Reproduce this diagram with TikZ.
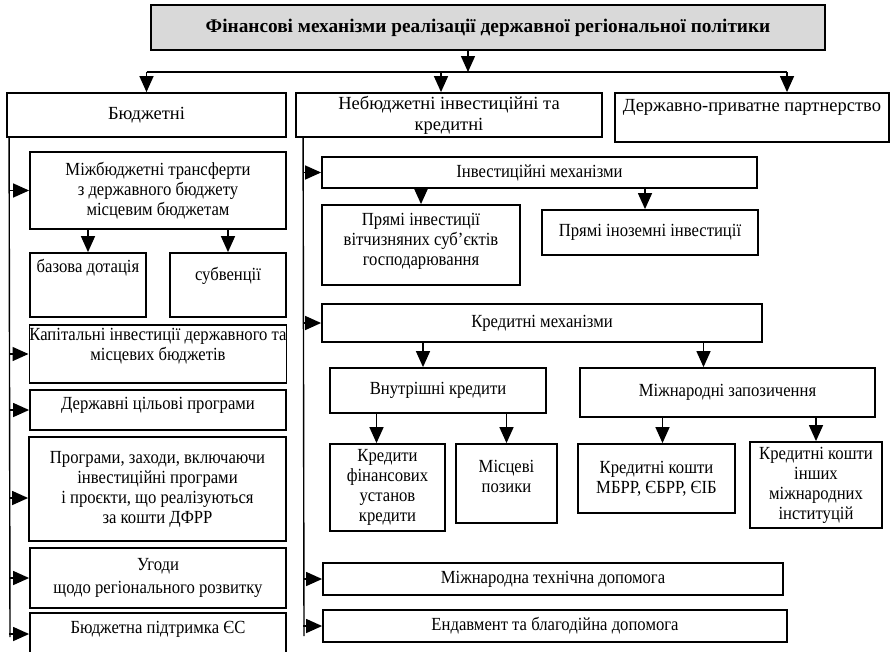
\documentclass[tikz,border=0pt]{standalone}
\usepackage{fontspec}
\setmainfont{Liberation Serif}
\newfontfamily\narrowserif[FakeStretch=0.9]{Liberation Serif}
\usetikzlibrary{arrows.meta}

\begin{document}
\begin{tikzpicture}[x=1pt, y=-1pt,
	box/.style={draw, line width=1.8pt, align=center, inner sep=0pt, font=\narrowserif\fontsize{18.5}{20}\selectfont},
	headbox/.style={box, font=\fontsize{18.5}{21}\selectfont},
	con/.style={line width=1.4pt},
	arr/.style={line width=1.4pt, -{Triangle[length=16pt, width=14pt]}}]
			\useasboundingbox (0,0) rectangle (896,651);
			
			\node[box, fill=gray!30, minimum width=674pt, minimum height=45pt, font=\bfseries\fontsize{19.3}{21}\selectfont] (title) at (488,27.5) {Фінансові механізми реалізації державної регіональної політики};
			
			\node[headbox, minimum width=279pt, minimum height=44pt] (bud) at (146.5,115) {Бюджетні};
			\node[headbox, minimum width=306pt, minimum height=44pt] (nebud) at (449,115) {Небюджетні інвестиційні та\\кредитні};
			\node[headbox, minimum width=274pt, text height=18pt, text depth=31pt] (ppp) at (752,117.5) {Державно-приватне партнерство};
			
			\node[box, minimum width=256pt, minimum height=77pt] (mbt) at (158,190.5) {Міжбюджетні трансферти\\з державного бюджету\\місцевим бюджетам};
			\node[box, minimum width=116pt, text height=19pt, text depth=45pt] (bdot) at (88,285) {базова дотація};
			\node[box, minimum width=116pt, text height=27pt, text depth=37pt] (subv) at (228,285) {субвенції};
			\node[box, minimum width=256pt, text height=35pt, text depth=23pt] (kap) at (158,354) {Капітальні інвестиції державного та\\місцевих бюджетів};
			\node[box, minimum width=256pt, text height=19pt, text depth=21pt] (dcp) at (158,410) {Державні цільові програми};
			\node[box, minimum width=257pt, minimum height=104pt] (prog) at (157.5,489) {Програми, заходи, включаючи\\інвестиційні програми\\і проєкти, що реалізуються\\за кошти ДФРР};
			\node[box, minimum width=256pt, minimum height=60pt] (ugod) at (158,578) {Угоди\\[3pt]щодо регіонального розвитку};
			\node[box, minimum width=256pt, text height=20pt, text depth=22pt] (bps) at (158,634) {Бюджетна підтримка ЄС};
			
			\node[box, minimum width=435pt, minimum height=31pt] (invm) at (539.5,172.5) {Інвестиційні механізми};
			\node[box, minimum width=198pt, text height=60pt, text depth=20pt] (pvi) at (421,245) {Прямі інвестиції\\вітчизняних суб’єктів\\господарювання};
			\node[box, minimum width=216pt, minimum height=45pt] (pii) at (650,232.5) {Прямі іноземні інвестиції};
			\node[box, minimum width=440pt, minimum height=38pt] (krm) at (542,323) {Кредитні механізми};
			\node[box, minimum width=216pt, minimum height=45pt] (vk) at (438,390.5) {Внутрішні кредити};
			\node[box, minimum width=295pt, minimum height=49pt] (mz) at (727.5,392.5) {Міжнародні запозичення};
			\node[box, minimum width=115pt, minimum height=87pt] (kfu) at (387.5,487.5) {Кредити\\фінансових\\установ\\кредити};
			\node[box, minimum width=101pt, text height=48pt, text depth=31pt] (mp) at (506.5,483.5) {Місцеві\\позики};
			\node[box, minimum width=157pt, minimum height=69pt] (kmb) at (656.5,478.5) {Кредитні кошти\\МБРР, ЄБРР, ЄІБ};
			\node[box, minimum width=132pt, minimum height=86pt] (kin) at (816,485) {Кредитні кошти\\інших\\міжнародних\\інституцій};
			\node[box, minimum width=460pt, minimum height=32pt] (mtd) at (553,579) {Міжнародна технічна допомога};
			\node[box, minimum width=464pt, minimum height=32pt] (endw) at (555,626) {Ендавмент та благодійна допомога};
			
			\coordinate (bus) at (468,72);
			\draw[arr] (title.south -| bus) -- (bus);
			\draw[con] (bus -| bud.north) -- ([xshift=35pt]bus -| ppp.north);
			\draw[arr] (bus -| bud.north) -- (bud.north);
			\draw[arr] ([xshift=-8pt]bus -| nebud.north) -- ([xshift=-8pt]nebud.north);
			\draw[arr] ([xshift=35pt]bus -| ppp.north) -- ([xshift=35pt]ppp.north);
			
			\coordinate (lsp) at ([xshift=3pt]bud.south west);
			\coordinate (lend) at (10,637);
			\draw[con] (lsp) -- (lend);
			\foreach \b in {mbt,kap,dcp,ugod,bps}
				\draw[arr] (lsp |- \b.west) -- (\b.west);
			\draw[arr] ([yshift=-9pt]lsp |- prog.west) -- ([yshift=-9pt]prog.west);
			
			\coordinate (msp) at ([xshift=8pt]nebud.south west);
			\coordinate (mend) at (304,636);
			\draw[con] (msp) -- (mend);
			\foreach \b in {invm,krm,mtd,endw}
				\draw[arr] (msp |- \b.west) -- (\b.west);
			
			\draw[arr] (mbt.south -| bdot.north) -- (bdot.north);
			\draw[arr] (mbt.south -| subv.north) -- (subv.north);
			\draw[arr] (invm.south -| pvi.north) -- (pvi.north);
			\draw[arr] ([xshift=-5pt]invm.south -| pii.north) -- ([xshift=-5pt]pii.north);
			\draw[arr] ([xshift=-15pt]krm.south -| vk.north) -- ([xshift=-15pt]vk.north);
			\draw[arr] ([xshift=-24pt]krm.south -| mz.north) -- ([xshift=-24pt]mz.north);
			\draw[arr] ([xshift=-11pt]vk.south -| kfu.north) -- ([xshift=-11pt]kfu.north);
			\draw[arr] (vk.south -| mp.north) -- (mp.north);
			\draw[arr] ([xshift=6pt]mz.south -| kmb.north) -- ([xshift=6pt]kmb.north);
			\draw[arr] (mz.south -| kin.north) -- (kin.north);
			
			%	\draw[arr] (title.south) -- (bus);
			
			\end{tikzpicture}
\end{document}
